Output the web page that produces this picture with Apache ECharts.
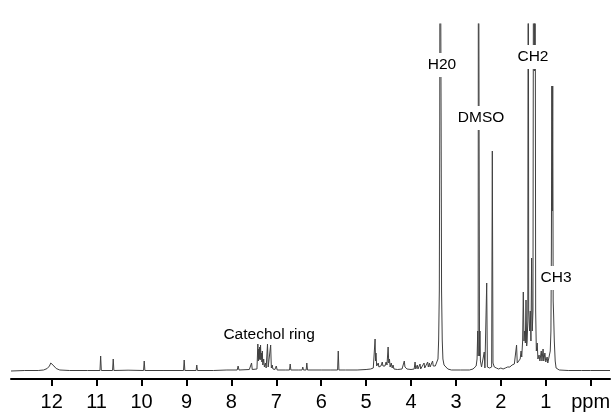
<!DOCTYPE html>
<html>
<head>
<meta charset="utf-8">
<style>
  html, body { margin: 0; padding: 0; background: #fff; }
  #chart { width: 611px; height: 414px; }
</style>
<script src="https://cdn.jsdelivr.net/npm/echarts@6/dist/echarts.min.js"></script>
</head>
<body>
<div id="chart"></div>
<script>
// 1H NMR spectrum vertices: [chemical shift (ppm), intensity]
var downfield = [
  [12.906,0],[12.6,0.5],[12.3,0.5],[12.18,1],[12.1,2.5],[12.05,5],[12.02,8],[12.0,10],[11.98,8],[11.95,5],[11.9,2.5],[11.82,1],[11.6,0.5],[11.2,0.5],
  [10.925,0.5],[10.91,15],[10.895,0.5],
  [10.645,0.5],[10.63,12],[10.615,0.5],
  [10.3,0.8],
  [9.955,0.5],[9.94,10],[9.925,0.5],
  [9.5,0.5],
  [9.065,0.5],[9.05,11],[9.035,0.5],
  [8.785,0.5],[8.77,6],[8.755,0.5],
  [8.4,0.5],[8.1,1]
];
var aromatic = [
  [7.87,1],[7.85,5],[7.83,1],
  [7.6,1.5],[7.565,1.5],[7.55,8],[7.535,1.5],
  [7.43,2],[7.41,27],[7.40,10],[7.39,22],[7.38,12],[7.37,24],[7.36,11],[7.35,26],[7.34,12],[7.33,18],[7.32,9],[7.31,20],[7.30,6],
  [7.28,12],[7.265,4],[7.24,8],[7.225,3],[7.21,4],[7.195,27],[7.18,4],[7.15,3],[7.125,26],[7.11,3],[7.09,6],[7.075,2],
  [7.03,1.5],[7.0,5],[6.98,1],
  [6.8,1],[6.705,1],[6.69,7],[6.675,1],
  [6.5,1],[6.425,1],[6.41,4],[6.395,1],[6.335,1],[6.32,8],[6.305,1],
  [6.0,1],[5.8,1],[5.635,1],[5.62,20],[5.605,1],
  [5.46,1],[5.45,3],[5.44,1],[5.2,1]
];
var midfield = [
  [5.0,1.5],[4.9,2],[4.84,3],[4.815,5],[4.80,32],[4.79,10],[4.78,18],[4.765,5],[4.75,4],[4.73,8],[4.715,4],[4.69,6],[4.67,5],
  [4.64,9],[4.625,5],[4.6,7],[4.58,5],[4.555,9],[4.535,6],[4.51,24],[4.495,8],[4.48,12],[4.465,4],[4.44,8],[4.42,3],[4.40,6],[4.38,2],
  [4.3,1.5],[4.2,2],[4.165,3],[4.15,10],[4.135,4],[4.11,6],[4.09,2],
  [4.0,1.5],[3.93,2],[3.91,9],[3.895,2],[3.86,6],[3.845,2],[3.80,7],[3.785,2],[3.75,3],[3.71,8],[3.695,3],[3.66,4],
  [3.63,9],[3.615,4],[3.59,8],[3.575,4],[3.545,6],[3.52,10],[3.505,5],
  [3.48,3],[3.46,5],[3.425,6],[3.40,12],[3.385,31],[3.37,80],[3.36,250],[3.355,600],[3.335,600],[3.33,250],[3.32,80],[3.305,31],[3.29,12],[3.265,6],[3.23,4],[3.18,2],
  [3.1,1],[2.9,1]
];
var aliphatic = [
  [2.7,1],[2.62,2],[2.58,3],[2.55,5],[2.53,12],[2.515,40],[2.505,15],[2.5,600],[2.482,600],[2.475,15],[2.465,40],[2.455,10],[2.43,4],[2.40,3],
  [2.385,3],[2.37,19],[2.355,3],
  [2.33,4],[2.315,88],[2.30,4],
  [2.27,3],[2.26,6],[2.25,3],
  [2.205,4],[2.19,220],[2.175,8],[2.16,10],[2.145,4],
  [2.1,3],[2.05,2],[2.0,3],[1.95,2],[1.9,3],[1.85,4],[1.8,4],[1.75,6],[1.70,7],[1.665,8],[1.65,26],[1.635,8],[1.61,10],[1.60,8],[1.57,12],
  [1.55,20],[1.535,14],[1.515,30],[1.50,79],[1.485,30],[1.47,40],[1.455,28],[1.44,71],[1.425,25],[1.415,30],[1.40,50],[1.39,600],[1.38,60],
  [1.36,40],[1.345,60],[1.33,30],[1.315,113],[1.30,40],[1.285,60],[1.27,600],[1.255,300],[1.24,600],[1.225,60],[1.21,20],[1.19,28],[1.175,12],
  [1.15,16],[1.13,10],[1.10,20],[1.085,10],[1.06,22],[1.045,10],[1.02,18],[1.00,9],[0.97,14],[0.955,8],[0.94,10],[0.92,8],
  [0.90,20],[0.885,40],[0.875,120],[0.865,285],[0.855,160],[0.845,285],[0.835,70],[0.825,56],[0.81,30],[0.79,10],[0.77,3],
  [0.74,2],[0.7,1],[0.5,0.5],[0.2,0.5],[0,0.5],[-0.43,0.5]
];
var tickValues = [12,11,10,9,8,7,6,5,4,3,2,1,0];
var tickLabels = ['12','11','10','9','8','7','6','5','4','3','2','1','ppm'];
var annotations = ['H20','DMSO','CH2','CH3','Catechol ring'];

var spectrum = downfield.concat(aromatic, midfield, aliphatic);

var chart = echarts.init(document.getElementById('chart'), null, {renderer: 'canvas'});
var labelStyle = {
  show: true, position: 'inside', color: '#000', fontSize: 15.5,
  fontFamily: 'Liberation Sans, Arial, sans-serif',
  backgroundColor: '#fff', padding: [4, 1],
  formatter: function (p) { return p.name; }
};
chart.setOption({
  animation: false,
  backgroundColor: '#fff',
  grid: { left: 11, right: 1, top: 24, bottom: 35, containLabel: false, outerBoundsMode: 'none' },
  xAxis: {
    type: 'value', inverse: true, min: -0.43, max: 12.906,
    axisLine: { show: true, onZero: false, lineStyle: { color: '#000', width: 2 } },
    axisTick: { show: true, length: 7, customValues: tickValues, lineStyle: { color: '#000', width: 2 } },
    axisLabel: {
      show: true, customValues: tickValues, margin: 13, color: '#000', fontSize: 20,
      fontFamily: 'Liberation Sans, Arial, sans-serif',
      formatter: function (v) { var i = tickValues.indexOf(Math.round(v)); return i >= 0 ? tickLabels[i] : ''; }
    },
    splitLine: { show: false }
  },
  yAxis: {
    type: 'value', min: -8, max: 347, show: false, splitLine: { show: false }
  },
  series: [{
    type: 'line', data: spectrum, showSymbol: false, symbol: 'none', clip: true,
    lineStyle: { color: '#404040', width: 1 },
    markPoint: {
      symbol: 'circle', symbolSize: 0, z: 10,
      label: labelStyle,
      data: [
        { name: annotations[0], coord: [3.31, 306] },
        { name: annotations[1], coord: [2.44, 253] },
        { name: annotations[2], coord: [1.285, 314] },
        { name: annotations[3], coord: [0.77, 93] },
        { name: annotations[4], coord: [7.16, 36], label: { backgroundColor: 'transparent' } }
      ]
    }
  }]
});
</script>
</body>
</html>
